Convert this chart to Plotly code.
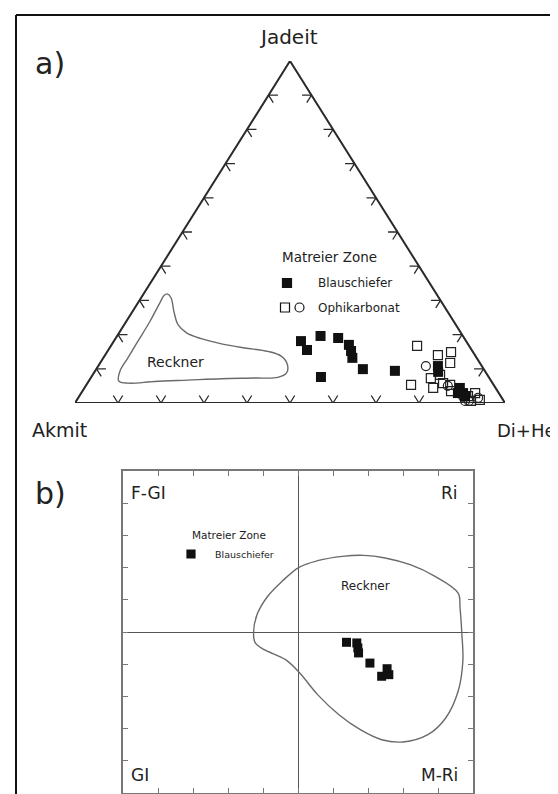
import plotly.graph_objects as go

W, H = 558, 794
FONT = "DejaVu Sans, sans-serif"

# ---------------- a) ternary data (Jadeit, Akmit, Di+He in %) ----------------
corner_labels = ["Jadeit", "Akmit", "Di+He"]

blau_jd = [18.1, 15.5, 19.6, 19.0, 17.0, 15.2, 13.2, 9.9, 7.6, 9.4, 10.8, 9.1, 4.4, 2.9, 2.9, 2.0]
blau_ak = [38.4, 38.3, 33.1, 29.3, 27.8, 28.2, 28.9, 28.1, 39.0, 20.9, 10.2, 11.0, 8.3, 8.3, 9.5, 8.3]
blau_dh = [43.5, 46.2, 47.3, 51.7, 55.2, 56.6, 57.9, 62.0, 53.4, 69.7, 79.0, 79.9, 87.3, 88.8, 87.6, 89.7]

ophi_sq_jd = [16.7, 14.0, 14.9, 11.7, 7.3, 5.3, 4.4, 5.8, 8.2, 5.3, 3.5, 2.9, 0.9, 0.6, 2.0]
ophi_sq_ak = [12.1, 8.6, 5.1, 6.9, 13.6, 19.2, 14.5, 11.5, 11.0, 10.1, 10.8, 5.5, 5.4, 7.6, 7.6]
ophi_sq_dh = [71.2, 77.4, 80.0, 81.4, 79.1, 75.5, 81.1, 82.7, 80.8, 84.6, 85.7, 91.6, 93.7, 91.8, 90.4]

ophi_ci_jd = [10.8, 5.0, 0.6, 1.5, 0.6]
ophi_ci_ak = [13.0, 10.8, 8.1, 5.5, 9.0]
ophi_ci_dh = [76.2, 84.2, 91.3, 93.0, 90.4]

reckA_jd = [31.9, 30.7, 26.8, 22.9, 20.5, 18.8, 17.3, 16.1, 15.1, 13.7, 11.2, 8.8, 7.5,
            7.3, 7.1, 6.7, 6.3, 5.8, 6.5, 9.3, 13.2, 18.0, 23.9, 29.2, 31.5]
reckA_dh = [5.5, 7.0, 9.6, 12.5, 15.7, 20.0, 25.4, 31.4, 37.3, 41.1, 43.8, 44.8, 43.4,
            38.1, 30.5, 22.9, 15.4, 9.4, 6.9, 5.8, 5.7, 5.6, 5.5, 5.1, 5.0]

tick_fracs = [0.1, 0.2, 0.3, 0.4, 0.5, 0.6, 0.7, 0.8, 0.9]

# ---------------- b) data ----------------
b_x = [0.277, 0.336, 0.342, 0.346, 0.411, 0.509, 0.519, 0.478]
b_y = [-0.064, -0.068, -0.099, -0.130, -0.193, -0.228, -0.265, -0.275]

reckB_x = [-0.254, -0.234, -0.173, -0.091, 0.006, 0.112, 0.254, 0.376, 0.498, 0.641, 0.783,
           0.915, 0.926, 0.936, 0.942, 0.915, 0.844, 0.742, 0.600, 0.478, 0.356, 0.234,
           0.112, 0.010, -0.071, -0.193, -0.244]
reckB_y = [-0.006, 0.108, 0.222, 0.315, 0.402, 0.443, 0.470, 0.476, 0.460, 0.418, 0.346,
           0.242, 0.149, -0.006, -0.182, -0.368, -0.534, -0.638, -0.683, -0.669, -0.607,
           -0.514, -0.389, -0.255, -0.172, -0.110, -0.068]
b_ticks = [-0.8, -0.6, -0.4, -0.2, 0.0, 0.2, 0.4, 0.6, 0.8]
quad_labels = ["F-GI", "Ri", "GI", "M-Ri"]


def tern(jd, ak, dh):
    s = jd + ak + dh
    a = jd / s
    c = dh / s
    return c + a / 2.0, a


def tern_lists(J, A, D):
    xs, ys = [], []
    for j, a, d in zip(J, A, D):
        x, y = tern(j, a, d)
        xs.append(x)
        ys.append(y)
    return xs, ys


def px(x, y):
    return x / W, 1 - y / H


fig = go.Figure()

# triangle outline
tx, ty = tern_lists([0, 1, 0, 0], [1, 0, 0, 1], [0, 0, 1, 0])
fig.add_trace(go.Scatter(x=tx, y=ty, mode="lines", line=dict(color="#2a2a2a", width=2),
                         hoverinfo="skip", showlegend=False, xaxis="x", yaxis="y"))

# arrow-like ticks
d = 0.022
kx, ky = [], []
for t in tick_fracs:
    segs = [
        [(d, 1 - t - d, t), (0, 1 - t, t), (d, 1 - t, t - d)],
        [(t, 1 - t - d, d), (t, 1 - t, 0), (t - d, 1 - t, d)],
        [(t, d, 1 - t - d), (t, 0, 1 - t), (t - d, d, 1 - t)],
    ]
    for seg in segs:
        for p in seg:
            x, y = tern(*p)
            kx.append(x)
            ky.append(y)
        kx.append(None)
        ky.append(None)
fig.add_trace(go.Scatter(x=kx, y=ky, mode="lines", line=dict(color="#2a2a2a", width=1.3),
                         hoverinfo="skip", showlegend=False, connectgaps=False,
                         xaxis="x", yaxis="y"))

# Reckner field (a)
rak = [100 - j - dd for j, dd in zip(reckA_jd, reckA_dh)]
rx, ry = tern_lists(reckA_jd + reckA_jd[:1], rak + rak[:1], reckA_dh + reckA_dh[:1])
fig.add_trace(go.Scatter(x=rx, y=ry, mode="lines", line=dict(color="#6a6a6a", width=1.4, shape="spline"),
                         hoverinfo="skip", showlegend=False, xaxis="x", yaxis="y"))

# Ophikarbonat
ox, oy = tern_lists(ophi_sq_jd, ophi_sq_ak, ophi_sq_dh)
fig.add_trace(go.Scatter(x=ox, y=oy, mode="markers", cliponaxis=False,
                         marker=dict(symbol="square-open", size=9, color="#222", line=dict(width=1.2)),
                         showlegend=False, xaxis="x", yaxis="y"))
cx, cy = tern_lists(ophi_ci_jd, ophi_ci_ak, ophi_ci_dh)
fig.add_trace(go.Scatter(x=cx, y=cy, mode="markers", cliponaxis=False,
                         marker=dict(symbol="circle-open", size=9, color="#222", line=dict(width=1.2)),
                         showlegend=False, xaxis="x", yaxis="y"))
# Blauschiefer
bxs, bys = tern_lists(blau_jd, blau_ak, blau_dh)
fig.add_trace(go.Scatter(x=bxs, y=bys, mode="markers", cliponaxis=False,
                         marker=dict(symbol="square", size=10, color="#111"),
                         showlegend=False, xaxis="x", yaxis="y"))

# ---------------- b) ----------------
fig.add_trace(go.Scatter(x=reckB_x + reckB_x[:1], y=reckB_y + reckB_y[:1], mode="lines",
                         line=dict(color="#6a6a6a", width=1.4, shape="spline"),
                         hoverinfo="skip", showlegend=False, xaxis="x2", yaxis="y2"))
fig.add_trace(go.Scatter(x=b_x, y=b_y, mode="markers",
                         marker=dict(symbol="square", size=9, color="#111"),
                         showlegend=False, xaxis="x2", yaxis="y2"))

ann = []


def text(t, x, y, size, xanchor="center", color="#222"):
    xp, yp = px(x, y)
    ann.append(dict(text=t, x=xp, y=yp, xref="paper", yref="paper", showarrow=False,
                    xanchor=xanchor, yanchor="middle", borderpad=0,
                    font=dict(family=FONT, size=size, color=color)))


text("a)", 26, 55, 30, "left")
text("b)", 26, 485, 30, "left")
text(corner_labels[0], 280, 29, 20)
text(corner_labels[1], 23, 422, 19, "left")
text(corner_labels[2], 549, 422, 18, "right")
text("Matreier Zone", 273, 249, 13.5, "left")
text("Blauschiefer", 309, 275, 12, "left")
text("Ophikarbonat", 309, 300, 12, "left")
text("Reckner", 167, 354, 14)

text(quad_labels[0], 122, 485, 17, "left")
text(quad_labels[1], 451, 485, 17, "right")
text(quad_labels[2], 122, 767, 17, "left")
text(quad_labels[3], 451, 767, 17, "right")
text("Matreier Zone", 221, 527, 10.5)
text("Blauschiefer", 206, 546, 9.5, "left")
text("Reckner", 358, 578, 12)

shapes = []


def rect(x0, y0, x1, y1, fill, line="#111"):
    a0, b0 = px(x0, y0)
    a1, b1 = px(x1, y1)
    shapes.append(dict(type="rect", xref="paper", yref="paper", x0=a0, y0=b0, x1=a1, y1=b1,
                       fillcolor=fill, line=dict(color=line, width=1.2)))


rect(274.5, 270.5, 283.5, 279.5, "#111")
rect(272.5, 295, 281.5, 304, "rgba(0,0,0,0)")
a0, b0 = px(287, 295)
a1, b1 = px(296, 304)
shapes.append(dict(type="circle", xref="paper", yref="paper", x0=a0, y0=b0, x1=a1, y1=b1,
                   line=dict(color="#111", width=1.2)))
rect(179, 542, 187, 550, "#111")

# page frame
for (x0, y0, x1, y1, col, w) in [(8, 7, 558, 7, "#111", 2), (8, 7, 8, 794, "#111", 2),
                                 (557, 7, 557, 794, "#ddd", 1)]:
    a0, b0 = px(x0, y0)
    a1, b1 = px(x1, y1)
    shapes.append(dict(type="line", xref="paper", yref="paper", x0=a0, y0=b0, x1=a1, y1=b1,
                       line=dict(color=col, width=w)))

hidden = dict(visible=False, showgrid=False, zeroline=False, fixedrange=True)
boxax = dict(range=[-1, 1], showline=True, linecolor="#777", linewidth=1.5, mirror="ticks",
             ticks="inside", ticklen=5, tickcolor="#777", tickwidth=1.2, tickvals=b_ticks,
             showticklabels=False, showgrid=False, zeroline=True, zerolinecolor="#555",
             zerolinewidth=1.2, fixedrange=True)

fig.update_layout(
    width=W, height=H, margin=dict(l=0, r=0, t=0, b=0),
    paper_bgcolor="white", plot_bgcolor="rgba(0,0,0,0)", showlegend=False,
    xaxis=dict(hidden, range=[0, 1], domain=[67 / W, 497 / W]),
    yaxis=dict(hidden, range=[0, 1], domain=[1 - 395 / H, 1 - 53 / H]),
    xaxis2=dict(boxax, domain=[115 / W, 465 / W], anchor="y2"),
    yaxis2=dict(boxax, domain=[1 - 785 / H, 1 - 463 / H], anchor="x2"),
    annotations=ann, shapes=shapes,
)

fig.write_html("out.html")
